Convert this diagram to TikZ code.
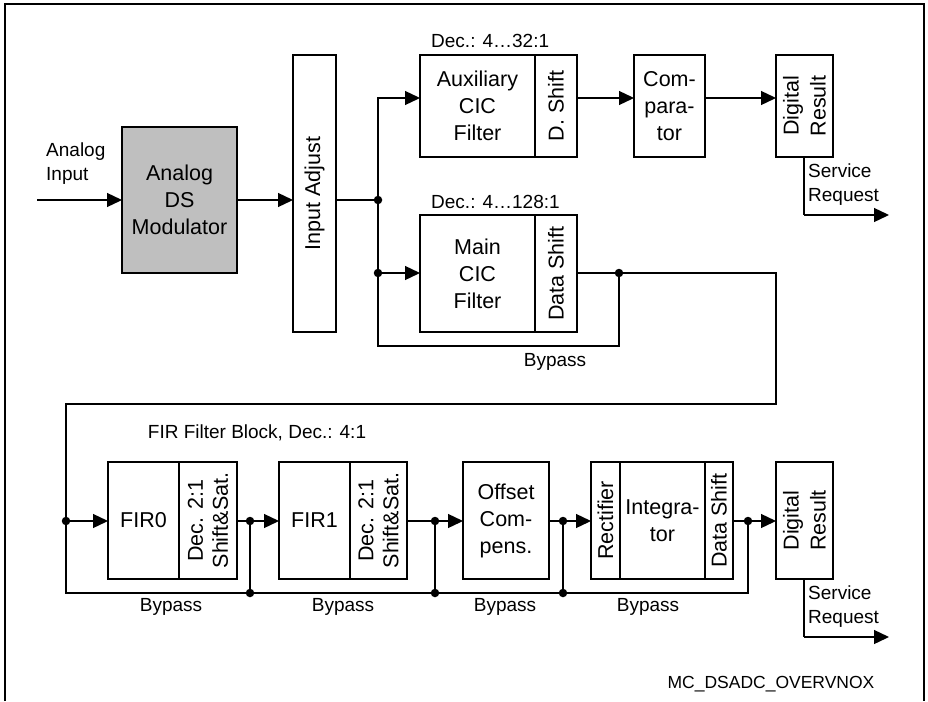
\documentclass[tikz,border=0pt]{standalone}
\usepackage{fontspec}
\setmainfont{Liberation Sans}
\usetikzlibrary{arrows.meta}
\tikzset{
  box/.style={draw, line width=1.3pt, inner sep=0pt, outer sep=0pt, anchor=north west, align=center, font=\fontsize{21.5}{27}\selectfont},
  lbl/.style={inner sep=0pt, font=\fontsize{19}{24}\selectfont},
  conn/.style={line width=1.3pt},
  arr/.style={line width=1.3pt, -{Triangle[length=15pt,width=14pt]}},
  dot/.style={circle, fill, inner sep=0pt, minimum size=8.5pt},
  frame/.style={line width=2pt}
}
\begin{document}
\begin{tikzpicture}[x=1pt,y=-1pt]
\useasboundingbox (0,0) rectangle (928,701);
% frame
\coordinate (fa) at (5,701);
\coordinate (fb) at (5,4);
\coordinate (fc) at (924,4);
\coordinate (fd) at (924,701);
\draw[frame] (fa) -- (fb) -- (fc) -- (fd);

% top boxes
\node[box, fill=black!25, minimum width=115, minimum height=146] (mod) at (122,127) {Analog\\DS\\Modulator};
\node[box, minimum width=43, minimum height=277] (adj) at (293,55) {};
\node[rotate=90, font=\fontsize{21.5}{27}\selectfont] (adjt) at (adj.center) {Input Adjust};
\node[box, minimum width=115, minimum height=102] (aux) at (420,55) {Auxiliary\\CIC\\Filter};
\node[box, minimum width=42, minimum height=102] (auxs) at (535,55) {};
\node[rotate=90, font=\fontsize{21.5}{27}\selectfont] (auxst) at (auxs.center) {D. Shift};
\node[box, minimum width=71, minimum height=102] (comp) at (634,55) {Com-\\para-\\tor};
\node[box, minimum width=57, minimum height=102] (dr1) at (776,55) {};
\node[rotate=90, align=center, font=\fontsize{21.5}{27}\selectfont] (dr1t) at (dr1.center) {Digital\\Result};
\node[box, minimum width=115, minimum height=117] (main) at (420,215) {Main\\CIC\\Filter};
\node[box, minimum width=42, minimum height=117] (mains) at (535,215) {};
\node[rotate=90, font=\fontsize{21.5}{27}\selectfont] (mainst) at (mains.center) {Data Shift};

% bottom boxes
\node[box, minimum width=71, minimum height=117] (fir0) at (108,462) {FIR0};
\node[box, minimum width=58, minimum height=117] (fir0s) at (179,462) {};
\node[rotate=90, align=center, font=\fontsize{21.5}{25}\selectfont] (fir0st) at (fir0s.center) {Dec. 2:1\\Shift\&Sat.};
\node[box, minimum width=71, minimum height=117] (fir1) at (279,462) {FIR1};
\node[box, minimum width=57, minimum height=117] (fir1s) at (350,462) {};
\node[rotate=90, align=center, font=\fontsize{21.5}{25}\selectfont] (fir1st) at (fir1s.center) {Dec. 2:1\\Shift\&Sat.};
\node[box, minimum width=86, minimum height=117] (off) at (463,462) {Offset\\Com-\\pens.};
\node[box, minimum width=29, minimum height=117] (rect) at (591,462) {};
\node[rotate=90, font=\fontsize{21.5}{27}\selectfont] (rectt) at (rect.center) {Rectifier};
\node[box, minimum width=85, minimum height=117] (integ) at (620,462) {Integra-\\tor};
\node[box, minimum width=28, minimum height=117] (ids) at (705,462) {};
\node[rotate=90, font=\fontsize{21.5}{27}\selectfont] (idst) at (ids.center) {Data Shift};
\node[box, minimum width=57, minimum height=117] (dr2) at (776,462) {};
\node[rotate=90, align=center, font=\fontsize{21.5}{27}\selectfont] (dr2t) at (dr2.center) {Digital\\Result};

% labels
\node[lbl, anchor=west, align=left] (ain) at (46,164) {Analog\\Input};
\node[lbl, anchor=west] (dec1) at (431,41) {Dec.: 4…32:1};
\node[lbl, anchor=west] (dec2) at (431,202) {Dec.: 4…128:1};
\node[lbl] (bp0) at (555,362) {Bypass};
\node[lbl, anchor=west, align=left] (sr1) at (808,185) {Service\\Request};
\node[lbl, anchor=west, align=left] (sr2) at (808,607) {Service\\Request};
\node[lbl] (firb) at (257,433) {FIR Filter Block, Dec.: 4:1};
\node[lbl] (bp1) at (171,607) {Bypass};
\node[lbl] (bp2) at (343,607) {Bypass};
\node[lbl] (bp3) at (505,607) {Bypass};
\node[lbl] (bp4) at (648,607) {Bypass};
\node[inner sep=0pt, font=\fontsize{17.5}{21}\selectfont] (code) at (771,684) {MC\_DSADC\_OVERVNOX};

% coordinates
\coordinate (in) at (37,200);
\coordinate (j1) at (378,200);
\coordinate (r1) at (0,98);
\coordinate (j2) at (378,273);
\coordinate (bb) at (378,346);
\coordinate (j3) at (619,273);
\coordinate (o1) at (776,273);
\coordinate (o2) at (776,404);
\coordinate (o3) at (66,404);
\coordinate (k0) at (66,521);
\coordinate (k0b) at (66,593);
\coordinate (k1) at (250,521);
\coordinate (k1b) at (250,593);
\coordinate (k2) at (435,521);
\coordinate (k2b) at (435,593);
\coordinate (k3) at (563,521);
\coordinate (k3b) at (563,593);
\coordinate (k4) at (748,521);
\coordinate (k4b) at (748,593);
\coordinate (s1) at (804,215);
\coordinate (s1e) at (889,215);
\coordinate (s2) at (804,637);
\coordinate (s2e) at (889,637);

% top connectors
\draw[arr] (in) -- (in -| mod.west);
\draw[arr] (mod.east |- in) -- (in -| adj.west);
\draw[conn] (adj.east |- j1) -- (j1);
\draw[arr] (j1) |- (r1 -| aux.west);
\draw[arr] (j2) -- (j2 -| main.west);
\draw[conn] (j1) -- (bb) -| (j3);
\draw[arr] (r1 -| auxs.east) -- (r1 -| comp.west);
\draw[arr] (r1 -| comp.east) -- (r1 -| dr1.west);
\draw[conn] (s1 |- dr1.south) -- (s1);
\draw[arr] (s1) -- (s1e);
\draw[conn] (mains.east |- j2) -- (o1) -- (o2) -- (o3) -- (k0);

% bottom connectors
\draw[arr] (k0) -- (k0 -| fir0.west);
\draw[conn] (k0) -- (k0b) -- (k4b) -- (k4);
\draw[conn] (fir0s.east |- k1) -- (k1);
\draw[arr] (k1) -- (k1 -| fir1.west);
\draw[conn] (k1) -- (k1b);
\draw[conn] (fir1s.east |- k2) -- (k2);
\draw[arr] (k2) -- (k2 -| off.west);
\draw[conn] (k2) -- (k2b);
\draw[conn] (off.east |- k3) -- (k3);
\draw[arr] (k3) -- (k3 -| rect.west);
\draw[conn] (k3) -- (k3b);
\draw[conn] (ids.east |- k4) -- (k4);
\draw[arr] (k4) -- (k4 -| dr2.west);
\draw[conn] (s2 |- dr2.south) -- (s2);
\draw[arr] (s2) -- (s2e);

% dots
\foreach \p in {j1,j2,j3,k0,k1,k1b,k2,k2b,k3,k3b,k4}
  \node[dot] at (\p) {};
\end{tikzpicture}
\end{document}
